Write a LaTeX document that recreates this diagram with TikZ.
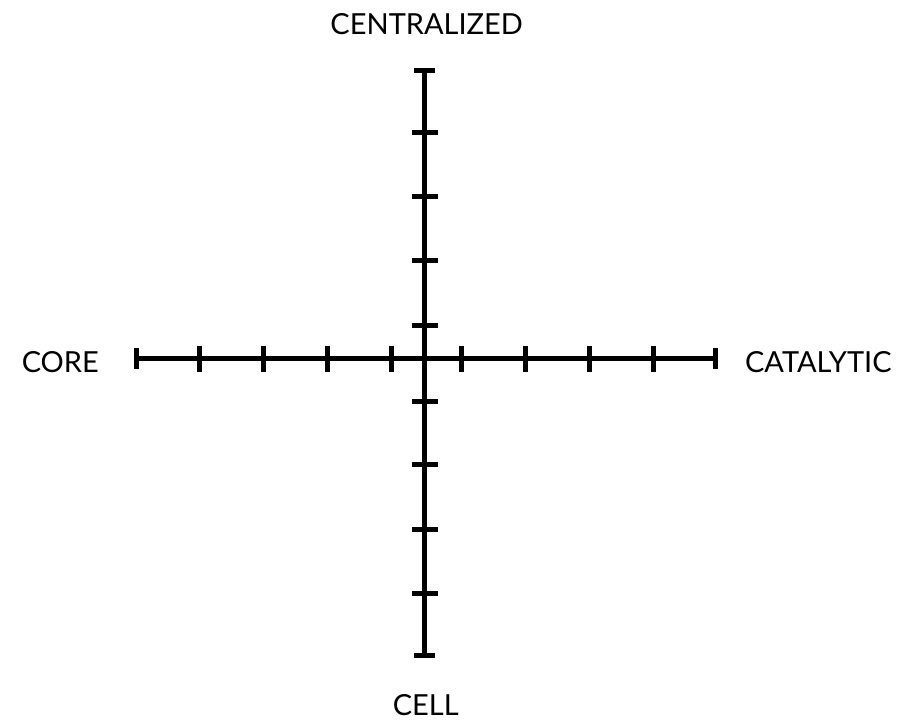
\documentclass[tikz,border=0pt]{standalone}
\usepackage{fontspec}
\setmainfont{Lato}
\begin{document}
\begin{tikzpicture}[x=1pt,y=-1pt,
  axis/.style={line width=5.5pt,line cap=butt,black},
  tickmark/.style={line width=5pt,line cap=butt,black},
  lbl/.style={inner sep=0pt,anchor=base,font=\fontsize{29}{31}\selectfont}]
\useasboundingbox (0,0) rectangle (911,721);
% axis ends
\coordinate (L) at (136,358.5);
\coordinate (R) at (715,358.5);
\coordinate (T) at (424.5,70);
\coordinate (B) at (424.5,655);
\draw[axis] (L) -- (R);
\draw[axis] (T) -- (B);
% end caps
\foreach \x in {136,715} \draw[tickmark] (\x,348) -- (\x,369);
\foreach \y in {70,655} \draw[tickmark] (414,\y) -- (435,\y);
% ticks
\foreach \x in {199,263,327,391,461,525,589,653} \draw[tickmark] (\x,346) -- (\x,372);
\foreach \y in {132,196,260,325,401,464,529,593} \draw[tickmark] (411.5,\y) -- (437.5,\y);
% labels
\node[lbl] (top) at (426.7,34) {CENTRALIZED};
\node[lbl] (left) at (60.3,372.3) {CORE};
\node[lbl] (right) at (818.3,372.3) {CATALYTIC};
\node[lbl] (bottom) at (425.8,715.5) {CELL};
\end{tikzpicture}
\end{document}
